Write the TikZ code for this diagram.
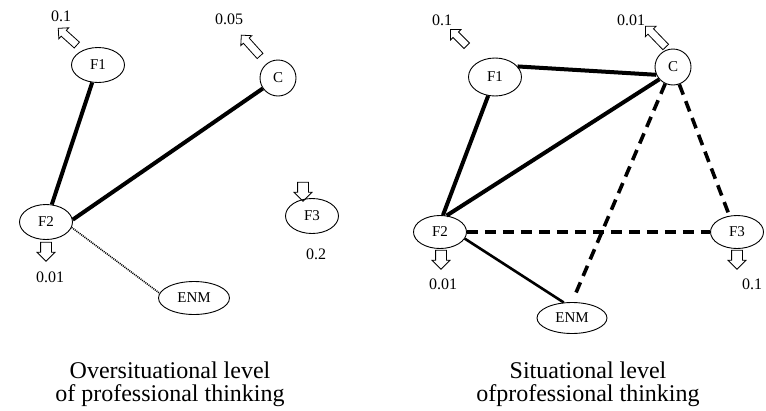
\documentclass[tikz,border=0pt]{standalone}
\usepackage{fontspec}
\setmainfont{Liberation Serif}
\usetikzlibrary{shapes.geometric,shapes.arrows}

\begin{document}
\begin{tikzpicture}[x=1pt,y=-1pt,
	elli/.style={draw,ellipse,line width=0.9pt,inner sep=0pt,minimum width=53pt,minimum height=35pt,font=\fontsize{15}{15}\selectfont},
	circ/.style={draw,circle,line width=0.9pt,inner sep=0pt,minimum size=36pt,font=\fontsize{15}{15}\selectfont},
	blockarr/.style={draw,single arrow,line width=0.8pt,inner sep=3.5pt,single arrow head extend=3.5pt},
	downarr/.style={blockarr,inner sep=5pt,minimum height=19pt,rotate=-90},
	val/.style={font=\fontsize{16}{16}\selectfont},
	dashes/.style={line width=3.6pt,dash pattern=on 11pt off 7pt},
	capt/.style={align=center,font=\fontsize{24}{23}\selectfont}]
	\useasboundingbox (0,0) rectangle (766,410);

	% oversituational level
	\node[elli] (LF1) at (98,65) {F1};
	\node[circ] (LC) at (278,78) {C};
	\node[elli] (LF2) at (46,222) {F2};
	\node[elli] (LF3) at (312,216) {F3};
	\node[elli,minimum width=71pt,minimum height=33pt] (LENM) at (194,298) {ENM};
	
	\node[blockarr,minimum height=25pt,rotate=138] (LaF1) at (69,38) {};
	\node[blockarr,minimum height=28pt,rotate=132] (LaC) at (252,47) {};
	\node[downarr] (LaF2) at (46,249) {};
	\node[downarr] (LaF3) at (303,189) {};
	
	\node[val] (LvF1) at (61,16) {0.1};
	\node[val] (LvC) at (229,19) {0.05};
	\node[val] (LvF2) at (50,277) {0.01};
	\node[val] (LvF3) at (316,254) {0.2};
	
	\draw[line width=4pt] (LF1)--(LF2);
	\draw[line width=4pt] (LC)--(LF2.5);
	\draw[line width=1.6pt,dash pattern=on 1pt off 1pt] (LF2.-12)--(LENM.172);
	
	% situational level
	\node[elli,minimum height=38pt] (RF1) at (495,77) {F1};
	\node[circ] (RC) at (673,67) {C};
	\node[elli,minimum height=33pt] (RF2) at (440,232) {F2};
	\node[elli,minimum height=33pt] (RF3) at (737,232) {F3};
	\node[elli,minimum width=70pt,minimum height=31pt] (RENM) at (572,318) {ENM};
	
	\node[blockarr,minimum height=23pt,rotate=135] (RaF1) at (460,39) {};
	\node[blockarr,minimum height=29pt,rotate=134] (RaC) at (657,38) {};
	\node[downarr] (RaF2) at (441,257) {};
	\node[downarr] (RaF3) at (737,257) {};
	
	\node[val] (RvF1) at (442,20) {0.1};
	\node[val] (RvC) at (631,20) {0.01};
	\node[val] (RvF2) at (443,284) {0.01};
	\node[val] (RvF3) at (752,284) {0.1};
	
	\draw[line width=4pt] (RF1.25)--(RC.205);
	\draw[line width=4pt] (RF1.250)--(RF2.80);
	\draw[line width=4pt] (RF2.68)--(RC.222);
	\draw[line width=2.6pt] (RF2.-15)--(RENM.118);
	\draw[dashes,shorten >=5pt] (RC.245)--(RENM.north);
	\draw[dashes] (RC.290)--(RF3.115);
	\draw[dashes] (RF2)--(RF3);
	
	\node[capt] (LT) at (170,384) {Oversituational level\\of professional thinking};
	\node[capt] (RT) at (588,384) {Situational level\\ofprofessional thinking};
\end{tikzpicture}
\end{document}
